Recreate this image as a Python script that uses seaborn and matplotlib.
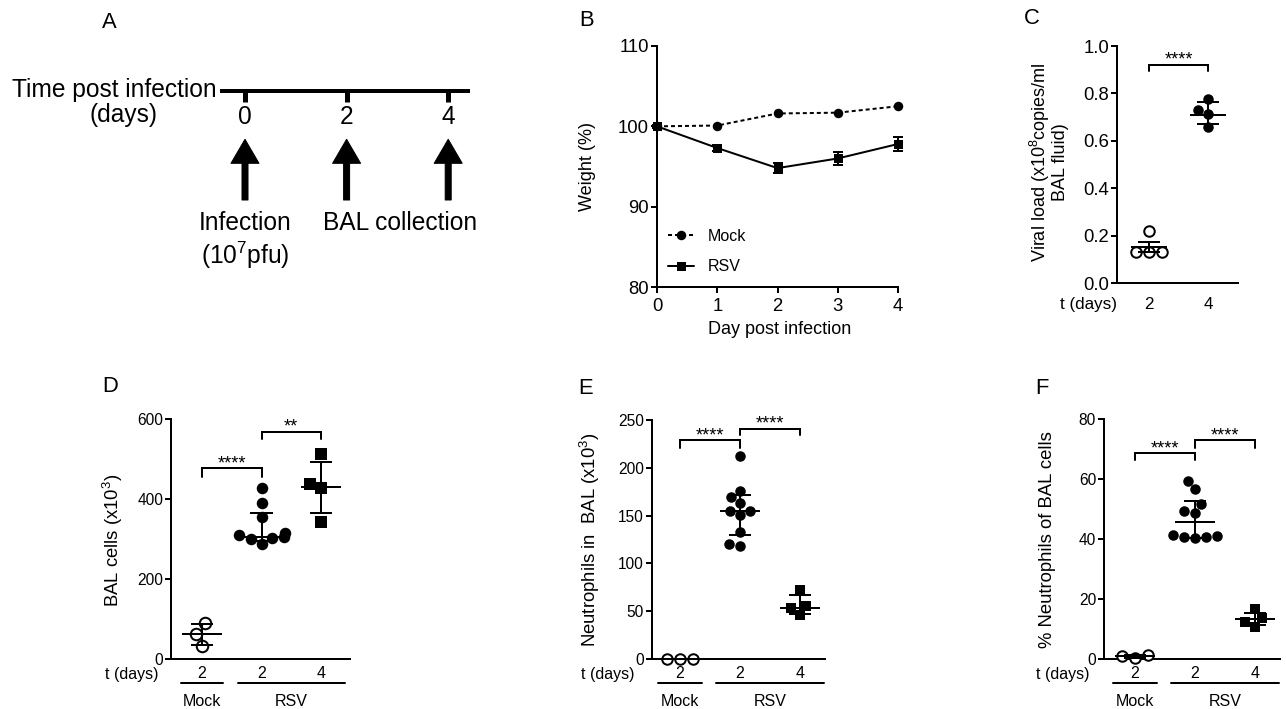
"""
RSV infection figure: timeline (A), body weight (B), viral load (C)
and BAL cell counts (D-F), drawn with seaborn on top of matplotlib.
"""

import numpy as np
import matplotlib
matplotlib.use("Agg")
import matplotlib.pyplot as plt
from matplotlib.transforms import blended_transform_factory, ScaledTranslation
import seaborn as sns
import warnings
warnings.filterwarnings("ignore")

# at 72 dpi one point is one pixel, which keeps the layout maths simple
DPI = 72
W, H = 1286, 709
INK = "black"

# ── Data ─────────────────────────────────────────────────────
# A: experiment timeline (days post infection)
timeline_days = [0, 2, 4]
arrow_days = [0, 2, 4]

# B: body weight (% of day 0)
weight_days = [0, 1, 2, 3, 4]
mock_weight = [100.0, 100.1, 101.6, 101.7, 102.5]
rsv_weight = [100.0, 97.3, 94.8, 96.0, 97.8]
rsv_weight_err = [0.2, 0.35, 0.6, 0.8, 0.9]

# C: viral load (x10^8 copies/ml BAL fluid)
c_groups = ["2", "4"]
c_day2 = [0.22, 0.13, 0.13, 0.13]
c_day4 = [0.775, 0.73, 0.715, 0.66]
c_center = [0.152, 0.707]
c_low = [0.131, 0.67]
c_high = [0.173, 0.764]
c_brackets = [(0, 1, 0.92, 0.895, "****")]

# D-F: Mock day 2, RSV day 2, RSV day 4
groups = ["Mock d2", "RSV d2", "RSV d4"]
group_days = ["2", "2", "4"]
group_spans = [("Mock", -0.36, 0.36), ("RSV", 0.6, 2.4)]

d_mock = [89, 63, 33]
d_rsv2 = [427, 390, 355, 315, 310, 305, 302, 300, 288]
d_rsv4 = [512, 437, 428, 343]
d_center = [62, 306, 431]
d_low = [35, 296, 364]
d_high = [87.5, 365, 492]
d_brackets = [(0, 1, 477, 456, "****"), (1, 2, 568, 550, "**")]

e_mock = [0, 0, 0]
e_rsv2 = [212, 175.5, 169.5, 163, 155, 155, 150.5, 133, 120, 118]
e_rsv4 = [72, 55, 53, 46]
e_center = [0, 154.6, 53.6]
e_low = [0, 129.6, 47.5]
e_high = [0, 172, 67]
e_brackets = [(0, 1, 229, 221, "****"), (1, 2, 241, 234, "****")]

f_mock = [1.0, 0.5, 1.2]
f_rsv2 = [59.4, 56.6, 51.6, 49.4, 48.6, 41.3, 41.0, 40.8, 40.6, 40.3]
f_rsv4 = [16.6, 13.6, 12.4, 10.8]
f_center = [0.9, 45.6, 13.2]
f_low = [0.5, 40.5, 11.3]
f_high = [1.2, 52.8, 15.4]
f_brackets = [(0, 1, 68.6, 66.3, "****"), (1, 2, 73, 70.2, "****")]


# ── Style ────────────────────────────────────────────────────
sns.set_theme(style="ticks")
plt.rcParams.update({
    "font.family": ["Liberation Sans", "DejaVu Sans"],
    "mathtext.fontset": "custom",
    "mathtext.rm": "Liberation Sans",
    "mathtext.default": "regular",
    "text.color": INK,
    "axes.edgecolor": INK,
    "xtick.color": INK,
    "ytick.color": INK,
    "figure.facecolor": "white",
    "axes.facecolor": "white",
})


def add_axes_px(fig, left, top, right, bottom):
    """Axes from pixel box (origin top-left)."""
    return fig.add_axes([left / W, 1 - bottom / H, (right - left) / W, (bottom - top) / H])


def ftext(fig, x, y, s, **kw):
    """Figure text at pixel position (origin top-left)."""
    kw.setdefault("ha", "center")
    kw.setdefault("va", "center")
    return fig.text(x / W, 1 - y / H, s, **kw)


def below(ax, px):
    """x in data units, y = px pixels under the bottom of the axes."""
    base = blended_transform_factory(ax.transData, ax.transAxes)
    return base + ScaledTranslation(0, -px / DPI, ax.figure.dpi_scale_trans)


def style_axes(ax, tick_fs):
    sns.despine(ax=ax)
    for side in ("left", "bottom"):
        ax.spines[side].set_linewidth(2)
    ax.tick_params(axis="y", length=6, width=2, labelsize=tick_fs, pad=2, direction="out")
    ax.grid(False)


def dot_panel(ax, names, samples, markers, filled, center, low, high,
              size=10.5, half=0.34, cap=0.19):
    for name, vals, mk, fill in zip(names, samples, markers, filled):
        sns.swarmplot(x=[name] * len(vals), y=vals, order=names, ax=ax,
                      marker=mk, size=size,
                      color=INK if fill else "white",
                      edgecolor=INK, linewidth=0 if fill else 2,
                      clip_on=False, zorder=3)
    pos = np.arange(len(names))
    ax.hlines(center, pos - half, pos + half, color=INK, lw=2, zorder=4, clip_on=False)
    ax.vlines(pos, low, high, color=INK, lw=2, zorder=4)
    ax.hlines(low, pos - cap, pos + cap, color=INK, lw=2, zorder=4, clip_on=False)
    ax.hlines(high, pos - cap, pos + cap, color=INK, lw=2, zorder=4, clip_on=False)


def draw_brackets(ax, brackets, fs=18):
    for x0, x1, top, drop, label in brackets:
        ax.plot([x0, x0, x1, x1], [drop, top, top, drop], color=INK, lw=2,
                solid_joinstyle="miter", clip_on=False)
        ax.text((x0 + x1) / 2, top, label, ha="center", va="baseline", fontsize=fs)


def group_axis(ax, tdays_x, fs=16):
    ax.set_xticks(range(len(group_days)))
    ax.set_xticklabels(group_days)
    ax.tick_params(axis="x", length=0, labelsize=fs, pad=7)
    ax.text(tdays_x, 0, "t (days)", transform=below(ax, 15), ha="center", va="center", fontsize=fs)
    for name, x0, x1 in group_spans:
        ax.plot([x0, x1], [0, 0], transform=below(ax, 24), color=INK, lw=2, clip_on=False)
        ax.text((x0 + x1) / 2, 0, name, transform=below(ax, 42), ha="center", va="center", fontsize=fs)


fig = plt.figure(figsize=(W / DPI, H / DPI), dpi=DPI)

# ── A: timeline ──────────────────────────────────────────────
day_px = 50.8
A_FS = 24.5
ax_a = add_axes_px(fig, 0, 0, 540, 340)
ax_a.set_xlim(-245 / day_px, (540 - 245) / day_px)
ax_a.set_ylim(340, 0)
ax_a.axis("off")
ax_a.plot([-0.49, 4.43], [90.7, 90.7], color=INK, lw=4, solid_capstyle="butt")
ax_a.vlines(timeline_days, 90.7, 101.7, color=INK, lw=5)
for d in timeline_days:
    ax_a.text(d, 116.7, str(d), ha="center", va="center", fontsize=A_FS)
for d in arrow_days:
    ax_a.annotate("", xy=(d, 139.3), xytext=(d, 200),
                  arrowprops=dict(facecolor=INK, edgecolor=INK, width=6, headwidth=28,
                                  headlength=24, shrink=0))
ax_a.text(-0.55, 90, "Time post infection", ha="right", va="center", fontsize=A_FS)
ax_a.text(-2.40, 115, "(days)", ha="center", va="center", fontsize=A_FS)
ax_a.text(0, 222.7, "Infection", ha="center", va="center", fontsize=A_FS)
ax_a.text(0, 255, "(10$^7$pfu)", ha="center", va="center", fontsize=A_FS)
ax_a.text(3.05, 222.7, "BAL collection", ha="center", va="center", fontsize=A_FS)

# ── B: weight ────────────────────────────────────────────────
ax_b = add_axes_px(fig, 657, 46, 898, 287)
sns.lineplot(x=weight_days, y=mock_weight, ax=ax_b, color=INK, lw=2, marker="o",
             markersize=9.5, markeredgewidth=0, linestyle=(0, (2, 1.5)), label="Mock",
             clip_on=False, zorder=3)
sns.lineplot(x=weight_days, y=rsv_weight, ax=ax_b, color=INK, lw=2, marker="s",
             markersize=9, markeredgewidth=0, label="RSV", clip_on=False, zorder=3)
ax_b.errorbar(weight_days, rsv_weight, yerr=rsv_weight_err, fmt="none", ecolor=INK,
              elinewidth=2, capsize=5, capthick=2, zorder=3, clip_on=False)
ax_b.set_xlim(0, 4)
ax_b.set_ylim(80, 110)
ax_b.set_xticks(weight_days)
ax_b.set_yticks([80, 90, 100, 110])
style_axes(ax_b, 18.5)
ax_b.tick_params(axis="x", length=6, width=2, labelsize=18.5, pad=5)
ax_b.set_xlabel("")
ax_b.set_ylabel("")
ftext(fig, 588, 166.5, "Weight (%)", rotation=90, fontsize=18)
ftext(fig, 780, 330, "Day post infection", fontsize=18)
ax_b.legend(loc="upper left", bbox_to_anchor=(668 / W, 1 - 229 / H),
            bbox_transform=fig.transFigure, frameon=False, fontsize=16,
            handlelength=1.6, handletextpad=0.9, labelspacing=0.95,
            borderpad=0, borderaxespad=0, numpoints=1)

# ── C: viral load ────────────────────────────────────────────
ax_c = add_axes_px(fig, 1117, 46, 1238, 283)
dot_panel(ax_c, c_groups, [c_day2, c_day4], ["o", "o"], [False, True],
          c_center, c_low, c_high, size=10.5, half=0.3, cap=0.18)
ax_c.set_xlim(-0.542, 1.508)
ax_c.set_ylim(0, 1.0)
ax_c.set_yticks(np.arange(0, 1.01, 0.2))
ax_c.set_yticklabels([f"{v:.1f}" for v in np.arange(0, 1.01, 0.2)])
style_axes(ax_c, 18.5)
ax_c.set_xticks([0, 1])
ax_c.set_xticklabels(c_groups)
ax_c.tick_params(axis="x", length=0, labelsize=17, pad=14)
ax_c.set_xlabel("")
ax_c.set_ylabel("")
ax_c.text(-1.03, 0, "t (days)", transform=below(ax_c, 21), ha="center", va="center", fontsize=17)
draw_brackets(ax_c, c_brackets, fs=18)
ftext(fig, 1048, 162, "Viral load (x10$^8$copies/ml\nBAL fluid)", rotation=90,
      fontsize=18, linespacing=1.0, multialignment="center")

# ── D-F: BAL cells ───────────────────────────────────────────
panels = [
    ((171, 419, 350, 659), (-0.521, 2.487), [d_mock, d_rsv2, d_rsv4], d_center, d_low, d_high,
     (0, 600), [0, 200, 400, 600], d_brackets, -1.18, (113, 540), "BAL cells (x10$^3$)", 11.5),
    ((652, 420, 825, 659), (-0.467, 2.417), [e_mock, e_rsv2, e_rsv4], e_center, e_low, e_high,
     (0, 250), [0, 50, 100, 150, 200, 250], e_brackets, -1.2, (590, 540),
     "Neutrophils in  BAL (x10$^3$)", 10.5),
    ((1104, 419, 1280, 659), (-0.517, 2.417), [f_mock, f_rsv2, f_rsv4], f_center, f_low, f_high,
     (0, 80), [0, 20, 40, 60, 80], f_brackets, -1.21, (1048, 540),
     "% Neutrophils of BAL cells", 10.5),
]
for (box, xlim, samples, center, low, high, ylim, yticks, brackets, tx, lab_xy,
     ylabel, msize) in panels:
    ax = add_axes_px(fig, *box)
    dot_panel(ax, groups, samples, ["o", "o", "s"], [False, True, True],
              center, low, high, size=msize)
    ax.set_xlim(*xlim)
    ax.set_ylim(*ylim)
    ax.set_yticks(yticks)
    style_axes(ax, 15.5)
    group_axis(ax, tx)
    ax.set_xlabel("")
    ax.set_ylabel("")
    draw_brackets(ax, brackets)
    ftext(fig, lab_xy[0], lab_xy[1], ylabel, rotation=90, fontsize=18.5)

# ── Panel letters ────────────────────────────────────────────
for letter, x, y in [("A", 109, 22), ("B", 587, 21), ("C", 1032, 19),
                     ("D", 110, 387), ("E", 586, 388), ("F", 1042, 388)]:
    ftext(fig, x, y, letter, fontsize=22)

fig.savefig("out.png", dpi=DPI, facecolor="white")
